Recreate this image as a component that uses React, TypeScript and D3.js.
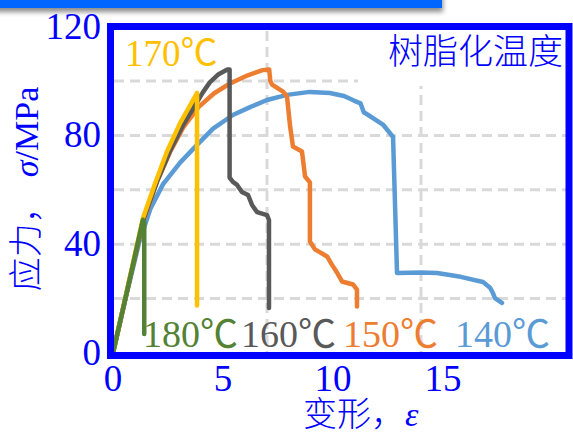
import React, { useEffect, useRef } from 'react';
import * as d3 from 'd3';

// strain (x) , stress MPa (y)
const curve140 = [
  [0, 0], [0.6, 21], [1.2, 41], [1.7, 53], [2.27, 62], [3.05, 70], [3.82, 76.5], [4.55, 82.5],
  [5.45, 87.5], [6.23, 90.4], [7.0, 93], [7.91, 94.9], [8.95, 96], [9.86, 95.6], [10.5, 94.5],
  [10.95, 92.8], [11.25, 91.8], [11.4, 88.5], [11.6, 87.5], [12.27, 84], [12.73, 79.4],
  [12.8, 60], [12.91, 29.4], [14.0, 29.6], [14.73, 29.4], [15.8, 28], [16.82, 26.1],
  [17.14, 24], [17.27, 22], [17.36, 20.2], [17.68, 18.4]
];
const curve150 = [
  [0, 0], [0.7, 25], [1.36, 48], [2.0, 63], [2.6, 74], [3.2, 83], [3.9, 90.5], [4.6, 95.5],
  [5.3, 99], [6.1, 102], [6.8, 104], [7.1, 104.2], [7.15, 100], [7.23, 98.7], [7.73, 96.1],
  [7.91, 94.3], [8.05, 83.3], [8.18, 75.9], [8.59, 74.1], [8.73, 64.9], [8.95, 62.7],
  [8.95, 41], [9.18, 38.1], [9.73, 35.5], [9.95, 32.5], [10.18, 29.6], [10.41, 26.3],
  [10.91, 25.2], [11.09, 23.3], [11.09, 17.1]
];
const curve160 = [
  [0, 0], [0.7, 25], [1.36, 48.5], [2.0, 63], [2.6, 74.5], [3.2, 84], [3.8, 92], [4.1, 96],
  [4.4, 99.5], [4.8, 102.5], [5.2, 104.2], [5.3, 104.2], [5.3, 64.5], [5.45, 62.9],
  [5.64, 61.8], [5.86, 59.2], [6.14, 58.1], [6.32, 54.4], [6.55, 51.8], [7.0, 50.7],
  [7.09, 48.9], [7.09, 16.5]
];
const curve170 = [
  [0, 0], [0.7, 25.5], [1.36, 49.5], [1.9, 62], [2.45, 74], [3.05, 84.5], [3.5, 91],
  [3.82, 95.6], [3.82, 17.5]
];
const curve180 = [
  [0, 0], [0.7, 25], [1.36, 49], [1.42, 48], [1.42, 7]
];

const curves = [curve140, curve150, curve160, curve170, curve180];
const curveColors = ['#5b9bd5', '#ed7d31', '#595959', '#ffc000', '#548235'];
const bottomLabels = ['180℃', '160℃', '150℃', '140℃'];
const bottomColors = ['#548235', '#595959', '#ed7d31', '#5b9bd5'];
const xTicks = [0, 5, 10, 15];
const yTicks = [0, 40, 80, 120];
const xGrid = [7, 14];
const yGrid = [20, 40, 60, 80, 100];

const serif = "'Liberation Serif', 'Times New Roman', 'Noto Sans CJK SC', serif";
const cjk = "'Noto Sans CJK SC', sans-serif";
const blue = '#0000ff';

export default function App() {
  const ref = useRef<SVGSVGElement>(null);

  useEffect(() => {
    const svg = d3.select(ref.current);
    svg.selectAll('*').remove();

    const x = d3.scaleLinear().domain([0, 21]).range([113, 575]);
    const y = d3.scaleLinear().domain([0, 120]).range([353, 26.6]);

    // top bar with shadow
    const defs = svg.append('defs');
    const f = defs.append('filter').attr('id', 'sh').attr('x', '-5%').attr('y', '-50%')
      .attr('width', '110%').attr('height', '400%');
    f.append('feDropShadow').attr('dx', 1).attr('dy', 4).attr('stdDeviation', 2.5)
      .attr('flood-color', '#000').attr('flood-opacity', 0.45);
    svg.append('rect').attr('x', -10).attr('y', -10).attr('width', 452).attr('height', 18)
      .attr('fill', '#0066ff').attr('filter', 'url(#sh)');

    // grid
    const grid = svg.append('g').attr('stroke', '#d9d9d9').attr('stroke-width', 3)
      .attr('stroke-dasharray', '10 6');
    yGrid.forEach(v => {
      grid.append('line').attr('x1', 114).attr('x2', 566).attr('y1', y(v)).attr('y2', y(v));
    });
    xGrid.forEach(v => {
      grid.append('line').attr('x1', x(v)).attr('x2', x(v)).attr('y1', 31).attr('y2', 352);
    });
    // white box under the title
    svg.append('rect').attr('x', 358).attr('y', 30).attr('width', 208).attr('height', 56)
      .attr('fill', '#fff');

    // curves
    const line = d3.line<number[]>().x(d => x(d[0])).y(d => y(d[1]));
    curves.forEach((c, i) => {
      svg.append('path').attr('d', line(c)).attr('fill', 'none')
        .attr('stroke', curveColors[i]).attr('stroke-width', 4.5)
        .attr('stroke-linejoin', 'round').attr('stroke-linecap', 'round');
    });

    // frame
    svg.append('rect').attr('x', 110.5).attr('y', 26.5).attr('width', 458.5).attr('height', 329)
      .attr('fill', 'none').attr('stroke', blue).attr('stroke-width', 7);

    // ticks
    yTicks.forEach(v => {
      _text(svg, 101, y(v) + 12, 37, blue, serif, String(v), 'end');
    });
    xTicks.forEach(v => {
      _text(svg, x(v), 391, 37, blue, serif, String(v), 'middle');
    });

    // labels
    _text(svg, 125, 66, 37, '#ffc000', serif, '170℃', 'start');
    const lx = [143, 241, 343, 455];
    bottomLabels.forEach((t, i) => {
      _text(svg, lx[i], 347, 38, bottomColors[i], serif, t, 'start');
    });
    _text(svg, 563, 64, 35, blue, cjk, '树脂化温度', 'end').attr('font-weight', 300);

    // x title
    const xt = svg.append('text').attr('x', 303).attr('y', 426).attr('fill', blue)
      .attr('font-size', 34);
    xt.append('tspan').attr('font-family', cjk).attr('font-weight', 300).text('变形，');
    xt.append('tspan').attr('font-family', serif).attr('font-style', 'italic').text('ε');

    // y title
    const yt = svg.append('text').attr('transform', 'translate(38,189) rotate(-90)')
      .attr('text-anchor', 'middle').attr('fill', blue).attr('font-size', 34);
    yt.append('tspan').attr('font-family', cjk).attr('font-weight', 300).text('应力，');
    yt.append('tspan').attr('font-family', serif).attr('font-style', 'italic').attr('dx', 12).text('σ');
    yt.append('tspan').attr('font-family', serif).text('/MPa');
  }, []);

  return (
    <svg ref={ref} width={573} height={435}
      style={{ position: 'absolute', left: 0, top: 0, background: '#fff' }} />
  );
}

function _text(g: any, x: number, y: number, size: number, color: string, family: string,
  text: string, anchor: string) {
  return g.append('text')
    .attr('x', x)
    .attr('y', y)
    .attr('font-size', size)
    .attr('fill', color)
    .attr('font-family', family)
    .attr('text-anchor', anchor)
    .text(text);
}
